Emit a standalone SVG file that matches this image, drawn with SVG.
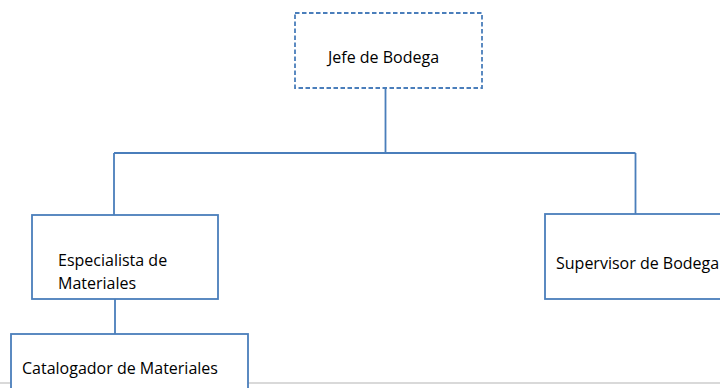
<svg xmlns="http://www.w3.org/2000/svg" width="720" height="388" viewBox="0 0 720 388">
<style>
.box{fill:#fff;stroke:#4a7ebb;stroke-width:1.8}
.dash{stroke-dasharray:4.5 2.5}
.conn{fill:none;stroke:#4a7ebb;stroke-width:1.8}
text{font-family:"Open Sans","Liberation Sans",sans-serif;font-size:16px;fill:#000}
</style>
<rect width="720" height="388" fill="#fff"/>
<line x1="0" y1="383" x2="720" y2="383" stroke="#d9d9d9" stroke-width="2"/>
<g id="connectors">
<path class="conn" d="M385.5 88 V153 M114 153 H635.5 M114 153 V215 M635.5 153 V214 M115 299 V334"/>
</g>
<g id="jefe">
<rect class="box dash" x="295" y="13" width="187" height="75"/>
<text x="328" y="63">Jefe de Bodega</text>
</g>
<g id="especialista">
<rect class="box" x="32" y="215" width="186" height="84"/>
<text x="58" y="266">Especialista de</text>
<text x="58" y="289">Materiales</text>
</g>
<g id="supervisor">
<rect class="box" x="545" y="214" width="185" height="85"/>
<text x="556" y="269">Supervisor de Bodega</text>
</g>
<g id="catalogador">
<rect class="box" x="11" y="334" width="237" height="70"/>
<text x="22" y="374">Catalogador de Materiales</text>
</g>
</svg>
